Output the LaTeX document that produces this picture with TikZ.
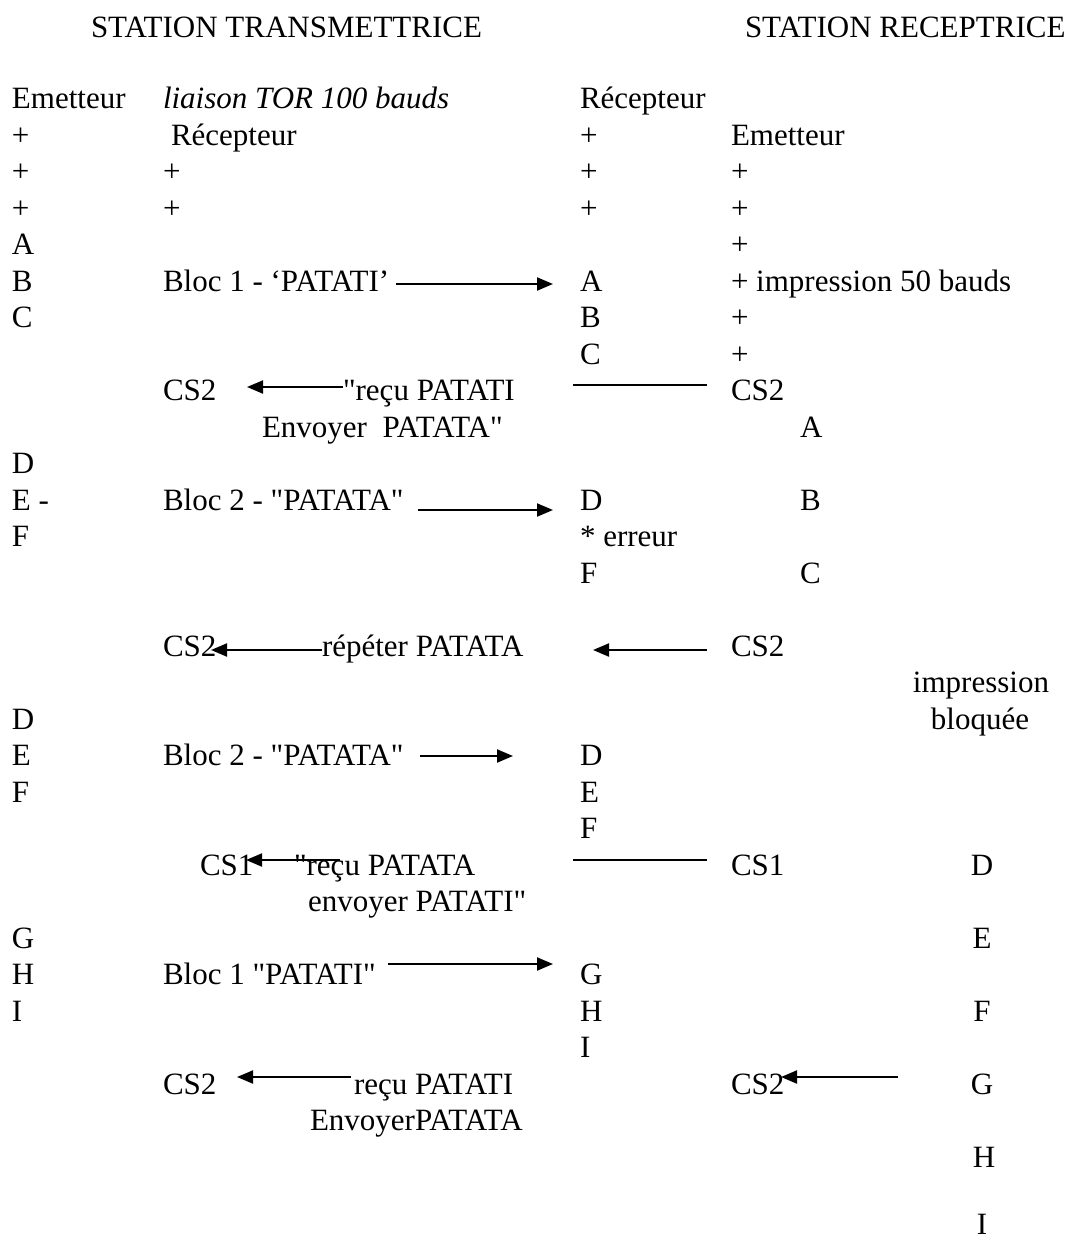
\documentclass[tikz,border=0pt]{standalone}
\usepackage{fontspec}
\newfontfamily\tnr{Liberation Serif}
\usetikzlibrary{arrows.meta}
\begin{document}
\begin{tikzpicture}[x=1pt,y=-1pt,
  txt/.style={anchor=base west,inner sep=0pt,outer sep=0pt,font=\tnr\fontsize{31}{37}\selectfont},
  ctr/.style={anchor=base,inner sep=0pt,outer sep=0pt,font=\tnr\fontsize{31}{37}\selectfont},
  arr/.style={line width=2pt,-{Triangle[length=16pt,width=13pt]}},
  plain/.style={line width=1.6pt}]
\useasboundingbox (0,0) rectangle (1068,1240);
% headers
\node[txt] (h1) at (91,37) {STATION TRANSMETTRICE};
\node[txt] (h2) at (745,37) {STATION RECEPTRICE};
% row 0
\node[txt] (r0a) at (12,108.5) {Emetteur};
\node[txt] (r0b) at (163,108.5) {\itshape liaison TOR 100 bauds};
\node[txt] (r0c) at (580,108.5) {Récepteur};
% row 1
\node[txt] (r1a) at (12,145) {+};
\node[txt] (r1b) at (171,145) {Récepteur};
\node[txt] (r1c) at (580,145) {+};
\node[txt] (r1d) at (731,145) {Emetteur};
% row 2
\node[txt] (r2a) at (12,181.5) {+};
\node[txt] (r2b) at (163,181.5) {+};
\node[txt] (r2c) at (580,181.5) {+};
\node[txt] (r2d) at (731,181.5) {+};
% row 3
\node[txt] (r3a) at (12,218) {+};
\node[txt] (r3b) at (163,218) {+};
\node[txt] (r3c) at (580,218) {+};
\node[txt] (r3d) at (731,218) {+};
% row 4
\node[txt] (r4a) at (12,254.5) {A};
\node[txt] (r4d) at (731,254.5) {+};
% row 5
\node[txt] (r5a) at (12,291) {B};
\node[txt] (r5b) at (163,291) {Bloc 1 - ‘PATATI’};
\node[txt] (r5c) at (580,291) {A};
\node[txt] (r5d) at (731,291) {+ impression 50 bauds};
% row 6
\node[txt] (r6a) at (12,327.5) {C};
\node[txt] (r6c) at (580,327.5) {B};
\node[txt] (r6d) at (731,327.5) {+};
% row 7
\node[txt] (r7c) at (580,364) {C};
\node[txt] (r7d) at (731,364) {+};
% row 8
\node[txt] (r8a) at (163,400.5) {CS2};
\node[txt] (r8b) at (343,400.5) {"reçu PATATI};
\node[txt] (r8d) at (731,400.5) {CS2};
% row 9
\node[txt] (r9b) at (262,437) {Envoyer\ \ PATATA"};
\node[txt] (r9d) at (800,437) {A};
% row 10
\node[txt] (r10a) at (12,473.5) {D};
% row 11
\node[txt] (r11a) at (12,510) {E -};
\node[txt] (r11b) at (163,510) {Bloc 2 - "PATATA"};
\node[txt] (r11c) at (580,510) {D};
\node[txt] (r11d) at (800,510) {B};
% row 12
\node[txt] (r12a) at (12,546.5) {F};
\node[txt] (r12c) at (580,546.5) {* erreur};
% row 13
\node[txt] (r13c) at (580,583) {F};
\node[txt] (r13d) at (800,583) {C};
% row 15
\node[txt] (r15a) at (163,656) {CS2};
\node[txt] (r15b) at (322,656) {répéter PATATA};
\node[txt] (r15d) at (731,656) {CS2};
% row 16-17
\node[ctr] (r16e) at (981,692.5) {impression};
\node[txt] (r17a) at (12,729) {D};
\node[ctr] (r17e) at (980,729) {bloquée};
% row 18
\node[txt] (r18a) at (12,765.5) {E};
\node[txt] (r18b) at (163,765.5) {Bloc 2 - "PATATA"};
\node[txt] (r18c) at (580,765.5) {D};
% row 19
\node[txt] (r19a) at (12,802) {F};
\node[txt] (r19c) at (580,802) {E};
% row 20
\node[txt] (r20c) at (580,838.5) {F};
% row 21
\node[txt] (r21a) at (200,875) {CS1};
\node[txt] (r21b) at (294,875) {"reçu PATATA};
\node[txt] (r21d) at (731,875) {CS1};
\node[ctr] (r21e) at (982,875) {D};
% row 22
\node[txt] (r22b) at (308,911.5) {envoyer PATATI"};
% row 23
\node[txt] (r23a) at (12,948) {G};
\node[ctr] (r23e) at (982,948) {E};
% row 24
\node[txt] (r24a) at (12,984.5) {H};
\node[txt] (r24b) at (163,984.5) {Bloc 1 "PATATI"};
\node[txt] (r24c) at (580,984.5) {G};
% row 25
\node[txt] (r25a) at (12,1021) {I};
\node[txt] (r25c) at (580,1021) {H};
\node[ctr] (r25e) at (982,1021) {F};
% row 26
\node[txt] (r26c) at (580,1057.5) {I};
% row 27
\node[txt] (r27a) at (163,1094) {CS2};
\node[txt] (r27b) at (354,1094) {reçu PATATI};
\node[txt] (r27d) at (731,1094) {CS2};
\node[ctr] (r27e) at (982,1094) {G};
% row 28
\node[txt] (r28b) at (310,1130.5) {EnvoyerPATATA};
% row 29, 31
\node[ctr] (r29e) at (984,1167) {H};
\node[ctr] (r31e) at (982,1234) {I};
% connectors
\coordinate (a5s) at (396,284);   \coordinate (a5e) at (553,284);
\coordinate (a8s) at (343,387);   \coordinate (a8e) at (247,387);
\coordinate (l8s) at (573,385);   \coordinate (l8e) at (707,385);
\coordinate (a11s) at (418,510);  \coordinate (a11e) at (553,510);
\coordinate (a15s) at (322,650);  \coordinate (a15e) at (211,650);
\coordinate (b15s) at (707,650);  \coordinate (b15e) at (593,650);
\coordinate (a18s) at (420,756);  \coordinate (a18e) at (513,756);
\coordinate (a21s) at (340,860);  \coordinate (a21e) at (246,860);
\coordinate (l21s) at (573,860);  \coordinate (l21e) at (707,860);
\coordinate (a24s) at (388,964);  \coordinate (a24e) at (553,964);
\coordinate (a27s) at (351,1077); \coordinate (a27e) at (237,1077);
\coordinate (b27s) at (898,1077); \coordinate (b27e) at (781,1077);
\draw[arr] (a5s) -- (a5e);
\draw[arr] (a8s) -- (a8e);
\draw[plain] (l8s) -- (l8e);
\draw[arr] (a11s) -- (a11e);
\draw[arr] (a15s) -- (a15e);
\draw[arr] (b15s) -- (b15e);
\draw[arr] (a18s) -- (a18e);
\draw[arr] (a21s) -- (a21e);
\draw[plain] (l21s) -- (l21e);
\draw[arr] (a24s) -- (a24e);
\draw[arr] (a27s) -- (a27e);
\draw[arr] (b27s) -- (b27e);
\end{tikzpicture}
\end{document}
